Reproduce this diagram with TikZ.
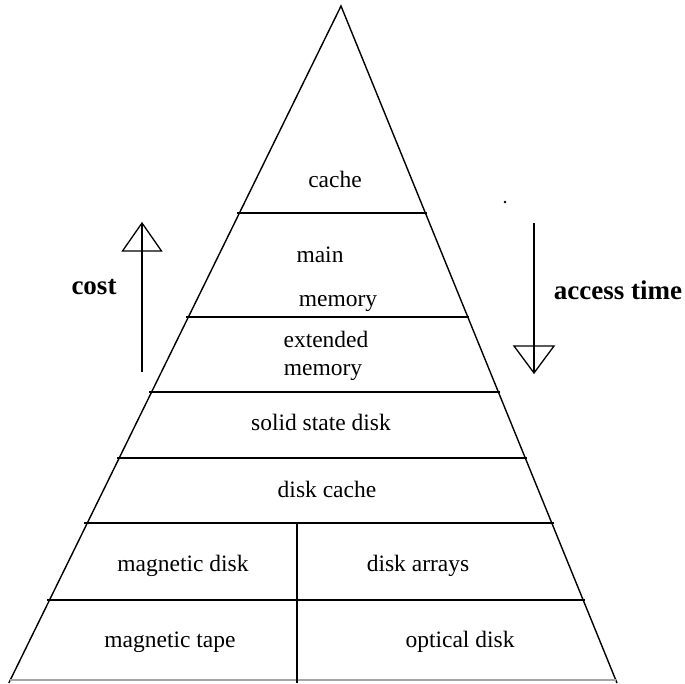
\documentclass[tikz,border=0pt]{standalone}
\usepackage{fontspec}
\setmainfont{Liberation Serif}
\usetikzlibrary{calc}
\begin{document}
\begin{tikzpicture}[x=1pt,y=-1pt,
  edge/.style={line width=1.4pt, line join=miter},
  tier/.style={line width=1.3pt},
  faint/.style={line width=1.2pt, draw=black!35},
  arrowline/.style={line width=1.3pt, line join=miter},
  lbl/.style={anchor=base, inner sep=0pt, font=\fontsize{23.5}{28}\selectfont},
  axislbl/.style={anchor=base, inner sep=0pt, font=\fontsize{27}{32}\selectfont\bfseries}]
\useasboundingbox (0,0) rectangle (685,683);

% outline of the pyramid
\coordinate (apex) at (341,6);
\coordinate (bl) at (8.8,683);
\coordinate (br) at (617,683);
\draw[edge] (bl) -- (apex) -- (br);

% tier boundaries
\coordinate (t1l) at (237,213);  \coordinate (t1r) at (427,213);
\coordinate (t2l) at (186,317);  \coordinate (t2r) at (469,317);
\coordinate (t3l) at (149,392);  \coordinate (t3r) at (500,392);
\coordinate (t4l) at (117,458);  \coordinate (t4r) at (527,458);
\coordinate (t5l) at (84,523);   \coordinate (t5r) at (554,523);
\coordinate (t6l) at (47,600);   \coordinate (t6r) at (585,600);
\coordinate (t7l) at (10,680);   \coordinate (t7r) at (616,680);
\draw[tier] (t1l) -- (t1r);
\draw[tier] (t2l) -- (t2r);
\draw[tier] (t3l) -- (t3r);
\draw[tier] (t4l) -- (t4r);
\draw[tier] (t5l) -- (t5r);
\draw[tier] (t6l) -- (t6r);
\draw[faint] (t7l) -- (t7r);

% split of the two lowest tiers
\coordinate (divtop) at (297,523);
\coordinate (divbot) at (297,683);
\draw[tier] (divtop) -- (divbot);

% tier labels
\node[lbl] (cache)    at (335,187) {cache};
\node[lbl] (mainA)    at (320,262) {main};
\node[lbl] (mainB)    at (338,306) {memory};
\node[lbl] (extA)     at (326,347) {extended};
\node[lbl] (extB)     at (323,375) {memory};
\node[lbl] (ssd)      at (321,430) {solid state disk};
\node[lbl] (dcache)   at (327,497) {disk cache};
\node[lbl] (magdisk)  at (183,571) {magnetic disk};
\node[lbl] (arrays)   at (418,571) {disk arrays};
\node[lbl] (magtape)  at (170,647) {magnetic tape};
\node[lbl] (optical)  at (460,647) {optical disk};

% cost arrow (upwards)
\coordinate (costtail) at (142,372);
\coordinate (costhead) at (142,223);
\draw[arrowline] (costtail) -- (costhead);
\draw[arrowline] (costhead) -- ($(costhead)+(-19.5,28)$) -- ($(costhead)+(19.5,28)$) -- cycle;
\node[axislbl] (cost) at (94,294) {cost};

% access time arrow (downwards)
\coordinate (acctail) at (534,223);
\coordinate (acchead) at (534,373);
\draw[arrowline] (acctail) -- (acchead);
\draw[arrowline] (acchead) -- ($(acchead)+(-20,-27)$) -- ($(acchead)+(20,-27)$) -- cycle;
\node[axislbl] (access) at (618,299) {access time};

% small speck
\fill (505,202) circle (1.3pt);
\end{tikzpicture}
\end{document}
